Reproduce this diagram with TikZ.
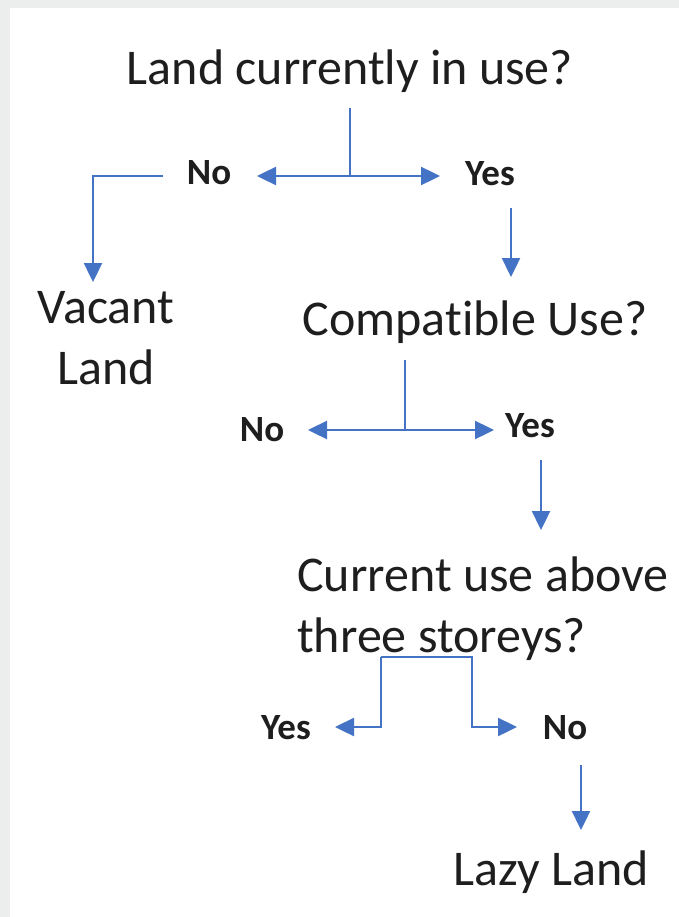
\documentclass[tikz,border=0pt]{standalone}
\usepackage{fontspec}
\setmainfont{Carlito}[Ligatures=NoCommon]
\usetikzlibrary{arrows.meta}
\definecolor{FlowBlue}{RGB}{68,114,196}
\definecolor{FrameGray}{RGB}{236,238,238}
\definecolor{InkBlack}{RGB}{30,30,30}

\begin{document}
\begin{tikzpicture}[x=1pt, y=-1pt,
    q/.style={font=\fontsize{50}{61}\selectfont, text=InkBlack, inner sep=0pt},
    ans/.style={font=\fontsize{37}{44}\selectfont\bfseries, text=InkBlack, inner sep=0pt},
    conn/.style={FlowBlue, line width=2.4pt},
    arr/.style={conn, -{Triangle[length=19pt, width=18pt]}}]
  \useasboundingbox (0,0) rectangle (679,917);
  \fill[FrameGray] (0,0) rectangle (679,917);
  \fill[white] (10,8) rectangle (679,917);

  % questions and outcomes
  \node[q, anchor=base] (land) at (350,85) {Land currently in use?};
  \node[q, anchor=base, align=center] (vacant) at (106,384) {Vacant\\Land};
  \node[q, anchor=base] (compat) at (475,335) {Compatible Use?};
  \node[q, anchor=base west, align=left] (storeys) at (297,652) {Current use above\\three storeys?};
  \node[q, anchor=base] (lazy) at (551,885) {Lazy Land};

  % answers
  \node[ans, anchor=base] (noA) at (209,185) {No};
  \node[ans, anchor=base] (yesA) at (490,186) {Yes};
  \node[ans, anchor=base] (noB) at (262,441) {No};
  \node[ans, anchor=base] (yesB) at (530,437) {Yes};
  \node[ans, anchor=base] (yesC) at (286,739) {Yes};
  \node[ans, anchor=base] (noC) at (565,739) {No};

  % connector ends
  \coordinate (landOut) at (350,108);  \coordinate (jA) at (350,176);
  \coordinate (noAtip) at (257,176);   \coordinate (yesAtip) at (440,176);
  \coordinate (noAout) at (163,176);   \coordinate (vacIn) at (93,282);
  \coordinate (yesAout) at (511,208);  \coordinate (compIn) at (511,277);
  \coordinate (compOut) at (405,360);  \coordinate (jB) at (405,430);
  \coordinate (noBtip) at (308,430);   \coordinate (yesBtip) at (494,430);
  \coordinate (yesBout) at (541,460);  \coordinate (storIn) at (541,530);
  \coordinate (barL) at (381,657);     \coordinate (barR) at (472,657);
  \coordinate (yesCtip) at (335,727);  \coordinate (noCtip) at (517,727);
  \coordinate (noCout) at (581,765);   \coordinate (lazyIn) at (581,830);

  \draw[conn] (landOut) -- (jA);
  \draw[arr] (jA) -- (noAtip);
  \draw[arr] (jA) -- (yesAtip);
  \draw[arr] (noAout) -| (vacIn);
  \draw[arr] (yesAout) -- (compIn);

  \draw[conn] (compOut) -- (jB);
  \draw[arr] (jB) -- (noBtip);
  \draw[arr] (jB) -- (yesBtip);
  \draw[arr] (yesBout) -- (storIn);

  \draw[arr] (barL) |- (yesCtip);
  \draw[arr] (barL) -- (barR) |- (noCtip);
  \draw[arr] (noCout) -- (lazyIn);
\end{tikzpicture}
\end{document}
